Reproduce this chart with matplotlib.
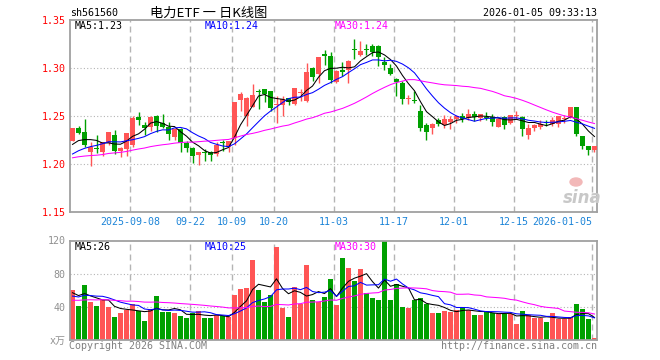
import numpy as np
import pandas as pd
import matplotlib
matplotlib.use('Agg')
import matplotlib.pyplot as plt

# daily K data for sh561560, 2025-08-25 .. 2026-01-05 (88 trading days)
opens = [1.224, 1.238, 1.233, 1.213, 1.217, 1.213, 1.222, 1.230, 1.214, 1.216,
         1.220, 1.249, 1.241, 1.239, 1.250, 1.243, 1.239, 1.228, 1.236, 1.222,
         1.217, 1.209, 1.213, 1.212, 1.210, 1.223, 1.218, 1.227, 1.267, 1.250,
         1.259, 1.276, 1.278, 1.276, 1.261, 1.261, 1.269, 1.263, 1.274, 1.266,
         1.300, 1.294, 1.314, 1.312, 1.285, 1.2975, 1.2975, 1.319, 1.3135, 1.320,
         1.3225, 1.3225, 1.306, 1.300, 1.289, 1.284, 1.2675, 1.267, 1.2555, 1.241,
         1.237, 1.246, 1.241, 1.244, 1.247, 1.250, 1.248, 1.2525, 1.248, 1.249,
         1.249, 1.239, 1.249, 1.2425, 1.2495, 1.249, 1.2305, 1.237, 1.2385, 1.244,
         1.242, 1.242, 1.2465, 1.249, 1.2595, 1.2295, 1.219, 1.2145]
highs = [1.238, 1.240, 1.247, 1.223, 1.230, 1.223, 1.233, 1.235, 1.218, 1.232,
         1.250, 1.254, 1.244, 1.250, 1.251, 1.252, 1.244, 1.237, 1.238, 1.224,
         1.218, 1.213, 1.216, 1.214, 1.223, 1.225, 1.224, 1.265, 1.275, 1.270,
         1.283, 1.278, 1.278, 1.276, 1.271, 1.271, 1.269, 1.279, 1.278, 1.305,
         1.301, 1.311, 1.319, 1.317, 1.298, 1.306, 1.308, 1.330, 1.328, 1.325,
         1.325, 1.324, 1.311, 1.3045, 1.290, 1.286, 1.272, 1.276, 1.261, 1.243,
         1.243, 1.248, 1.2515, 1.2495, 1.2515, 1.253, 1.257, 1.255, 1.2525, 1.254,
         1.2525, 1.248, 1.250, 1.2515, 1.255, 1.2495, 1.242, 1.242, 1.246, 1.246,
         1.249, 1.2505, 1.2515, 1.2595, 1.2595, 1.2295, 1.219, 1.219]
lows = [1.224, 1.231, 1.218, 1.198, 1.211, 1.208, 1.220, 1.210, 1.207, 1.208,
        1.218, 1.241, 1.230, 1.234, 1.233, 1.238, 1.225, 1.225, 1.213, 1.213,
        1.201, 1.199, 1.203, 1.203, 1.208, 1.214, 1.213, 1.220, 1.255, 1.240,
        1.259, 1.257, 1.265, 1.255, 1.243, 1.250, 1.261, 1.261, 1.266, 1.265,
        1.286, 1.284, 1.303, 1.284, 1.284, 1.292, 1.284, 1.309, 1.312, 1.3135,
        1.312, 1.302, 1.298, 1.293, 1.2705, 1.262, 1.262, 1.2635, 1.234, 1.225,
        1.231, 1.240, 1.238, 1.236, 1.243, 1.2435, 1.246, 1.2445, 1.2445, 1.2455,
        1.240, 1.2385, 1.2365, 1.242, 1.247, 1.2295, 1.226, 1.234, 1.236, 1.240,
        1.240, 1.239, 1.2425, 1.248, 1.2295, 1.2155, 1.2095, 1.212]
closes = [1.237, 1.232, 1.220, 1.218, 1.216, 1.223, 1.233, 1.214, 1.217, 1.232,
          1.248, 1.246, 1.238, 1.249, 1.240, 1.239, 1.231, 1.236, 1.222, 1.217,
          1.208, 1.212, 1.211, 1.209, 1.220, 1.222, 1.224, 1.265, 1.273, 1.269,
          1.272, 1.275, 1.273, 1.258, 1.263, 1.268, 1.265, 1.279, 1.275, 1.296,
          1.291, 1.311, 1.313, 1.287, 1.297, 1.296, 1.3075, 1.3185, 1.318, 1.319,
          1.317, 1.311, 1.303, 1.294, 1.285, 1.268, 1.2685, 1.266, 1.237, 1.233,
          1.242, 1.2415, 1.247, 1.247, 1.250, 1.247, 1.252, 1.249, 1.2525, 1.2475,
          1.2435, 1.247, 1.2405, 1.251, 1.2505, 1.236, 1.238, 1.241, 1.242, 1.243,
          1.246, 1.2505, 1.247, 1.2595, 1.2315, 1.219, 1.2145, 1.2185]
# volume, 万
volume = [60, 41, 66, 46, 41, 48, 40, 28, 33, 36,
          44, 35, 23, 37, 53, 34, 34, 32, 29, 26,
          33, 35, 27, 26, 30, 29, 28, 54, 62, 63,
          97, 60, 46, 54, 112, 39, 28, 64, 44, 90,
          48, 46, 52, 74, 42, 99, 87, 71, 86, 57,
          51, 48, 120, 48, 68, 40, 38, 48, 51, 44,
          33, 33, 35, 34, 36, 40, 36, 30, 30, 35,
          33, 31, 31, 31, 19, 35, 30, 26, 27, 22,
          32, 25, 25, 28, 44, 37, 25, 2]

# closes / volumes of the 29 days before the window (only feed the MA lines)
prev_close = [1.200, 1.198, 1.202, 1.205, 1.203, 1.199, 1.196, 1.200, 1.204, 1.207,
              1.210, 1.208, 1.205, 1.209, 1.212, 1.210, 1.206, 1.203, 1.205, 1.208,
              1.198, 1.195, 1.200, 1.203, 1.206, 1.212, 1.215, 1.218, 1.220]
prev_vol = [44, 52, 40, 47, 38, 50, 43, 46, 55, 41,
            49, 44, 39, 47, 51, 42, 45, 48, 40, 48,
            52, 45, 50, 48, 50, 58, 54, 60, 53]

tick_idx = [10, 20, 27, 34, 44, 54, 64, 74, 87]
tick_labels = ['2025-09-08', '09-22', '10-09', '10-20', '11-03', '11-17', '12-01', '12-15', '2026-01-05']

RED = '#ff5555'
GREEN = '#00a000'
GRID = '#b4b4b4'
BORDER = '#a0a0a0'
MONO = ['DejaVu Sans Mono', 'Noto Sans CJK SC']

n = len(closes)
x = np.arange(n)
o = np.array(opens); h = np.array(highs); l = np.array(lows); c = np.array(closes)
up = c >= o
colors = [RED if u else GREEN for u in up]

all_close = pd.Series(prev_close + closes)
all_vol = pd.Series(prev_vol + volume, dtype=float)
ma_p = {k: all_close.rolling(k).mean().values[-n:] for k in (5, 10, 30)}
ma_v = {k: all_vol.rolling(k).mean().values[-n:] for k in (5, 10, 30)}
ma_col = {5: 'black', 10: '#0000ff', 30: '#ff00ff'}

W, H = 660, 360
fig = plt.figure(figsize=(6.6, 3.6), dpi=100)
ax = fig.add_axes([70 / W, 1 - 212 / H, 527 / W, 192 / H])
ax2 = fig.add_axes([70 / W, 1 - 340 / H, 527 / W, 99.5 / H])

for a in (ax, ax2):
    a.set_xlim(-0.42, n - 0.58)
    for s in a.spines.values():
        s.set_color(BORDER)
        s.set_linewidth(1.3)
    for t in tick_idx:
        a.axvline(t - 0.4, color=GRID, lw=1.0, dashes=(4.3, 2.9), zorder=0)
    a.tick_params(length=0)

# price panel
ax.set_ylim(1.15, 1.35)
for yv in (1.20, 1.25, 1.30):
    ax.axhline(yv, color=GRID, lw=0.8, ls=(0, (1, 2)), zorder=0)
ax.vlines(x, l, h, colors=colors, lw=1.0, zorder=2)
body = np.maximum(np.abs(c - o), 0.0011)
ax.bar(x, body, bottom=np.minimum(o, c), width=0.8, color=colors, zorder=3)
for k in (5, 10, 30):
    ax.plot(x, ma_p[k], color=ma_col[k], lw=0.75, zorder=4)
ax.set_yticks([1.15, 1.20, 1.25, 1.30, 1.35])
ax.set_yticklabels(['%.2f' % v for v in [1.15, 1.20, 1.25, 1.30, 1.35]],
                   color='#ff0000', fontsize=7.2, family=MONO)
ax.tick_params(axis='y', pad=3)
ax.set_xticks([t - 0.4 for t in tick_idx])
ax.set_xticklabels(tick_labels, color='#1c84d8', fontsize=7.2, family=MONO)
ax.tick_params(axis='x', pad=3.5)
ax.get_xticklabels()[-1].set_horizontalalignment('right')

# volume panel
ax2.set_ylim(0, 120)
for yv in (40, 80):
    ax2.axhline(yv, color=GRID, lw=0.8, ls=(0, (1, 2)), zorder=0)
ax2.bar(x, volume, width=0.8, color=colors, zorder=2)
for k in (5, 10, 30):
    ax2.plot(x, ma_v[k], color=ma_col[k], lw=0.75, zorder=3)
ax2.set_yticks([0, 40, 80, 120])
ax2.set_yticklabels(['x万', '40', '80', '120'], color='#909090', fontsize=7.2, family=MONO)
ax2.tick_params(axis='y', pad=3)
ax2.set_xticks([])


def ftext(px, py, s, **kw):
    kw.setdefault('family', MONO)
    kw.setdefault('fontsize', 7.2)
    kw.setdefault('va', 'center')
    fig.text(px / W, 1 - py / H, s, **kw)


ftext(70, 13, 'sh561560')
ftext(209, 13, '电力ETF 一 日K线图', ha='center', fontsize=9.5, family=['Noto Sans CJK SC'])
ftext(597, 13, '2026-01-05 09:33:13', ha='right')

ftext(75, 26, 'MA5:1.23', color='black')
ftext(205, 26, 'MA10:1.24', color='#0000ff')
ftext(335, 26, 'MA30:1.24', color='#ff00ff')
ftext(75, 247, 'MA5:26', color='black')
ftext(205, 247, 'MA10:25', color='#0000ff')
ftext(335, 247, 'MA30:30', color='#ff00ff')

ftext(69, 346, 'Copyright 2026 SINA.COM', color='#808080')
ftext(597, 346, 'http://finance.sina.com.cn', color='#808080', ha='right')

# sina watermark: small pink eye above the word
fig.patches.append(matplotlib.patches.Ellipse((576 / W, 1 - 182 / H), 12 / W, 8 / H,
                                              transform=fig.transFigure, color='#f2b8b8'))
ftext(582, 198, 'sina', color='#c8c8c8', ha='center', fontsize=12,
      family=['DejaVu Sans'], style='italic', weight='bold')

fig.savefig('out.png', dpi=100)
